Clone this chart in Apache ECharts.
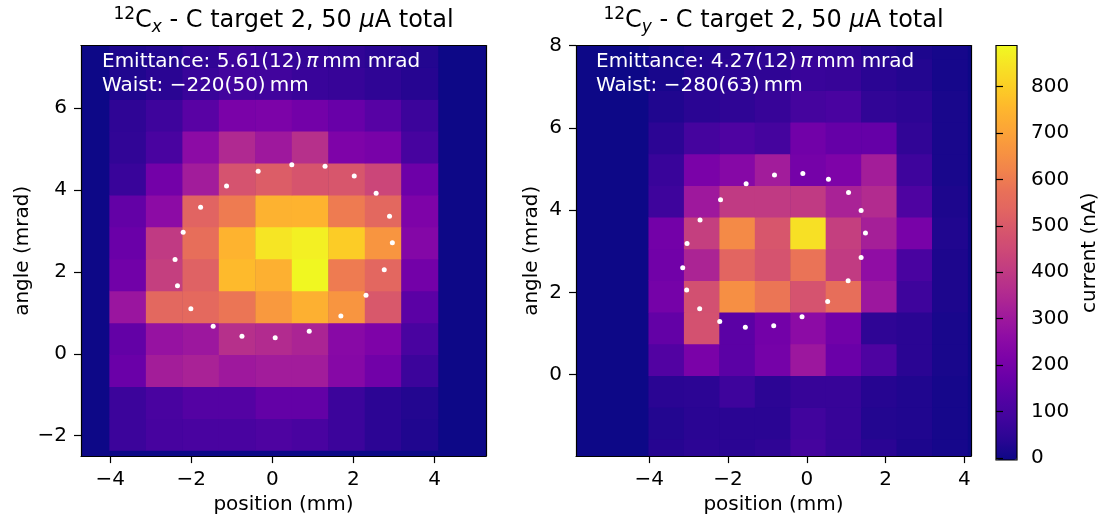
<!DOCTYPE html>
<html>
<head>
<meta charset="utf-8">
<script src="https://cdn.jsdelivr.net/npm/echarts@6/dist/echarts.min.js"></script>
<style>
  html, body { margin: 0; background: #fff; }
  #chart { width: 1101px; height: 520px; }
</style>
</head>
<body>
<div id="chart"></div>
<script>
// bin centres: position (mm), angle (mrad)
var posBins = [-3.57, -2.67, -1.77, -0.87, 0.03, 0.93, 1.83, 2.73, 3.63]
var angBinsX = [-1.97, -1.19, -0.41, 0.37, 1.15, 1.93, 2.71, 3.49, 4.27, 5.05, 5.83, 6.61, 7.39]
var angBinsY = [-1.945, -1.175, -0.405, 0.365, 1.135, 1.905, 2.675, 3.445, 4.215, 4.985, 5.755, 6.525, 7.295, 8.065]

// current (nA), one row per angle bin (bottom -> top), one value per position bin
var currentX = [
  [75, 100, 105, 105, 115, 105, 75, 45, 25],
  [75, 105, 130, 130, 160, 160, 75, 45, 30],
  [175, 315, 330, 300, 310, 310, 240, 190, 75],
  [160, 280, 295, 370, 355, 335, 245, 220, 105],
  [290, 545, 550, 585, 675, 735, 665, 495, 145],
  [190, 415, 525, 760, 735, 885, 600, 540, 195],
  [175, 400, 565, 745, 850, 870, 795, 665, 235],
  [160, 255, 530, 600, 740, 745, 600, 545, 220],
  [70, 195, 310, 480, 510, 485, 490, 440, 180],
  [55, 105, 255, 350, 300, 370, 220, 205, 100],
  [50, 80, 140, 210, 215, 195, 170, 135, 75],
  [25, 40, 70, 90, 85, 70, 65, 50, 35],
  [20, 30, 55, 75, 70, 60, 55, 40, 30]
]
var currentY = [
  [35, 45, 40, 50, 95, 65, 40, 20, 10],
  [30, 40, 40, 40, 85, 65, 30, 25, 10],
  [40, 45, 80, 45, 65, 65, 35, 25, 10],
  [125, 210, 145, 200, 295, 175, 115, 40, 15],
  [160, 475, 145, 195, 255, 190, 50, 40, 15],
  [200, 470, 650, 585, 480, 565, 295, 80, 20],
  [190, 335, 535, 480, 580, 405, 265, 105, 20],
  [195, 415, 635, 490, 840, 415, 320, 205, 25],
  [80, 300, 400, 400, 400, 330, 355, 115, 20],
  [70, 210, 240, 310, 200, 220, 315, 80, 15],
  [45, 95, 115, 95, 190, 165, 165, 55, 15],
  [25, 40, 50, 65, 95, 105, 55, 45, 15],
  [15, 35, 45, 50, 70, 65, 40, 30, 10],
  [10, 25, 35, 40, 55, 50, 30, 20, 10]
]

// fitted emittance ellipse points [position, angle]
var ellipseX = [
  [0.48, 4.62], [1.30, 4.58], [2.02, 4.34], [2.56, 3.92], [2.89, 3.36],
  [2.96, 2.71], [2.76, 2.05], [2.31, 1.43], [1.69, 0.92], [0.91, 0.55],
  [0.07, 0.39], [-0.75, 0.43], [-1.46, 0.67], [-2.01, 1.10], [-2.34, 1.66],
  [-2.40, 2.30], [-2.20, 2.97], [-1.77, 3.58], [-1.13, 4.10], [-0.35, 4.46]
]
var ellipseY = [
  [-0.82, 4.85], [-0.10, 4.89], [0.55, 4.75], [1.06, 4.43], [1.38, 3.99],
  [1.49, 3.44], [1.38, 2.85], [1.05, 2.28], [0.53, 1.78], [-0.12, 1.41],
  [-0.84, 1.19], [-1.56, 1.15], [-2.21, 1.29], [-2.72, 1.60], [-3.05, 2.06],
  [-3.15, 2.60], [-3.04, 3.19], [-2.71, 3.76], [-2.19, 4.25], [-1.54, 4.64]
]

var posTicks = [-4, -2, 0, 2, 4]
var angTicksX = [-2, 0, 2, 4, 6]
var angTicksY = [0, 2, 4, 6, 8]
var cbarTicks = [0, 100, 200, 300, 400, 500, 600, 700, 800]

var binW = 0.9
var binHX = 0.78
var binHY = 0.77

var plasma = ['#0d0887', '#2a0593', '#41049d', '#5402a3', '#6a00a8', '#7e03a8', '#8f0da4',
  '#a11b9b', '#b12a90', '#bf3984', '#cc4778', '#d6556d', '#e16462', '#e97158', '#f2844b',
  '#f89540', '#fca636', '#feb72d', '#fcce25', '#f7e225', '#f0f921']

var FONT = 'DejaVu Sans'

function cells(rows, xs, ys) {
  var out = []
  rows.forEach(function (row, j) {
    row.forEach(function (v, i) {
      out.push([xs[i], ys[j], v])
    })
  })
  return out
}

function rectRenderer(w, h) {
  return function (params, api) {
    var x = api.value(0)
    var y = api.value(1)
    var p0 = api.coord([x - w / 2, y + h / 2])
    var p1 = api.coord([x + w / 2, y - h / 2])
    return {
      type: 'rect',
      shape: { x: p0[0], y: p0[1], width: p1[0] - p0[0] + 0.5, height: p1[1] - p0[1] + 0.5 },
      style: { fill: api.visual('color') }
    }
  }
}

function minus(v) {
  return String(v).replace('-', '\u2212')
}

function axis(gridIndex, min, max, ticks, position, name, nameGap) {
  return {
    type: 'value', gridIndex: gridIndex, min: min, max: max, position: position,
    name: name, nameLocation: 'middle', nameGap: nameGap,
    nameTextStyle: { fontFamily: FONT, fontSize: 20, color: '#000' },
    splitLine: { show: false },
    axisLine: { show: true, onZero: false, lineStyle: { color: '#000', width: 1.2 } },
    axisTick: { show: true, inside: false, length: 7, customValues: ticks, lineStyle: { color: '#000', width: 1.2 } },
    axisLabel: { show: true, margin: 14, customValues: ticks, formatter: minus, fontFamily: FONT, fontSize: 20, color: '#000' },
    z: 10
  }
}

function frame(gridIndex, min, max, position) {
  return {
    type: 'value', gridIndex: gridIndex, min: min, max: max, position: position,
    splitLine: { show: false },
    axisLine: { show: true, onZero: false, lineStyle: { color: '#000', width: 1.2 } },
    axisTick: { show: false },
    axisLabel: { show: false },
    z: 10
  }
}

var titleRich = {
  sup: { fontFamily: FONT, fontSize: 17, verticalAlign: 'top', lineHeight: 30, color: '#000' },
  sub: { fontFamily: FONT, fontSize: 17, fontStyle: 'italic', verticalAlign: 'bottom', lineHeight: 30, color: '#000' },
  it: { fontFamily: FONT, fontSize: 24, fontStyle: 'italic', lineHeight: 30, color: '#000' }
}

var chart = echarts.init(document.getElementById('chart'), null, { renderer: 'canvas' })

var option = {
  animation: false,
  backgroundColor: '#fff',
  title: [
    {
      text: '{sup|12}C{sub|x} - C target 2, 50 {it|\u03bc}A total',
      left: 283.5, top: 6, textAlign: 'center', padding: 0,
      textStyle: { fontFamily: FONT, fontSize: 24, fontWeight: 'normal', color: '#000', lineHeight: 30, rich: titleRich }
    },
    {
      text: '{sup|12}C{sub|y} - C target 2, 50 {it|\u03bc}A total',
      left: 773.5, top: 6, textAlign: 'center', padding: 0,
      textStyle: { fontFamily: FONT, fontSize: 24, fontWeight: 'normal', color: '#000', lineHeight: 30, rich: titleRich }
    }
  ],
  grid: [
    { left: 81, top: 45.5, width: 405, height: 413, show: true, backgroundColor: '#0d0887', borderWidth: 0 },
    { left: 576, top: 45.5, width: 395, height: 414.5, show: true, backgroundColor: '#0d0887', borderWidth: 0 },
    { left: 996, top: 45.5, width: 21, height: 414.5, show: true, backgroundColor: 'transparent', borderColor: '#000', borderWidth: 1.2, z: 10 }
  ],
  xAxis: [
    axis(0, -4.72, 5.27, posTicks, 'bottom', 'position (mm)', 36),
    frame(0, -4.72, 5.27, 'top'),
    axis(1, -5.86, 4.17, posTicks, 'bottom', 'position (mm)', 36),
    frame(1, -5.86, 4.17, 'top'),
    { type: 'value', gridIndex: 2, min: 0, max: 1, show: false }
  ],
  yAxis: [
    axis(0, -2.5, 7.53, angTicksX, 'left', 'angle (mrad)', 48),
    frame(0, -2.5, 7.53, 'right'),
    axis(1, -1.98, 8.0, angTicksY, 'left', 'angle (mrad)', 34),
    frame(1, -1.98, 8.0, 'right'),
    Object.assign(axis(2, -4, 888, cbarTicks, 'right', 'current (nA)', 63), { nameRotate: 90, axisLine: { show: false } })
  ],
  visualMap: {
    type: 'continuous', min: -4, max: 888, dimension: 2, seriesIndex: [0, 2],
    calculable: false, hoverLink: false, orient: 'vertical',
    left: 996, top: 45.5, itemWidth: 21, itemHeight: 414.5, padding: 0,
    inRange: { color: plasma }
  },
  graphic: [
    {
      type: 'text', left: 102, top: 50, z: 20,
      style: {
        text: 'Emittance: 5.61(12)\u2009{it|\u03c0}\u2009mm mrad\nWaist: \u2212220(50)\u2009mm',
        fill: '#fff', fontFamily: FONT, fontSize: 20, lineHeight: 24,
        rich: { it: { fontFamily: FONT, fontSize: 20, fontStyle: 'italic', fill: '#fff', lineHeight: 24 } }
      }
    },
    {
      type: 'text', left: 596, top: 50, z: 20,
      style: {
        text: 'Emittance: 4.27(12)\u2009{it|\u03c0}\u2009mm mrad\nWaist: \u2212280(63)\u2009mm',
        fill: '#fff', fontFamily: FONT, fontSize: 20, lineHeight: 24,
        rich: { it: { fontFamily: FONT, fontSize: 20, fontStyle: 'italic', fill: '#fff', lineHeight: 24 } }
      }
    }
  ],
  series: [
    {
      type: 'custom', xAxisIndex: 0, yAxisIndex: 0, clip: true,
      renderItem: rectRenderer(binW, binHX),
      encode: { x: 0, y: 1 },
      data: cells(currentX, posBins, angBinsX)
    },
    {
      type: 'scatter', xAxisIndex: 0, yAxisIndex: 0, symbolSize: 5, z: 5,
      itemStyle: { color: '#fff', opacity: 1 }, emphasis: { disabled: true },
      data: ellipseX
    },
    {
      type: 'custom', xAxisIndex: 2, yAxisIndex: 2, clip: true,
      renderItem: rectRenderer(binW, binHY),
      encode: { x: 0, y: 1 },
      data: cells(currentY, posBins, angBinsY)
    },
    {
      type: 'scatter', xAxisIndex: 2, yAxisIndex: 2, symbolSize: 5, z: 5,
      itemStyle: { color: '#fff', opacity: 1 }, emphasis: { disabled: true },
      data: ellipseY
    }
  ]
}

option && chart.setOption(option)
</script>
</body>
</html>
